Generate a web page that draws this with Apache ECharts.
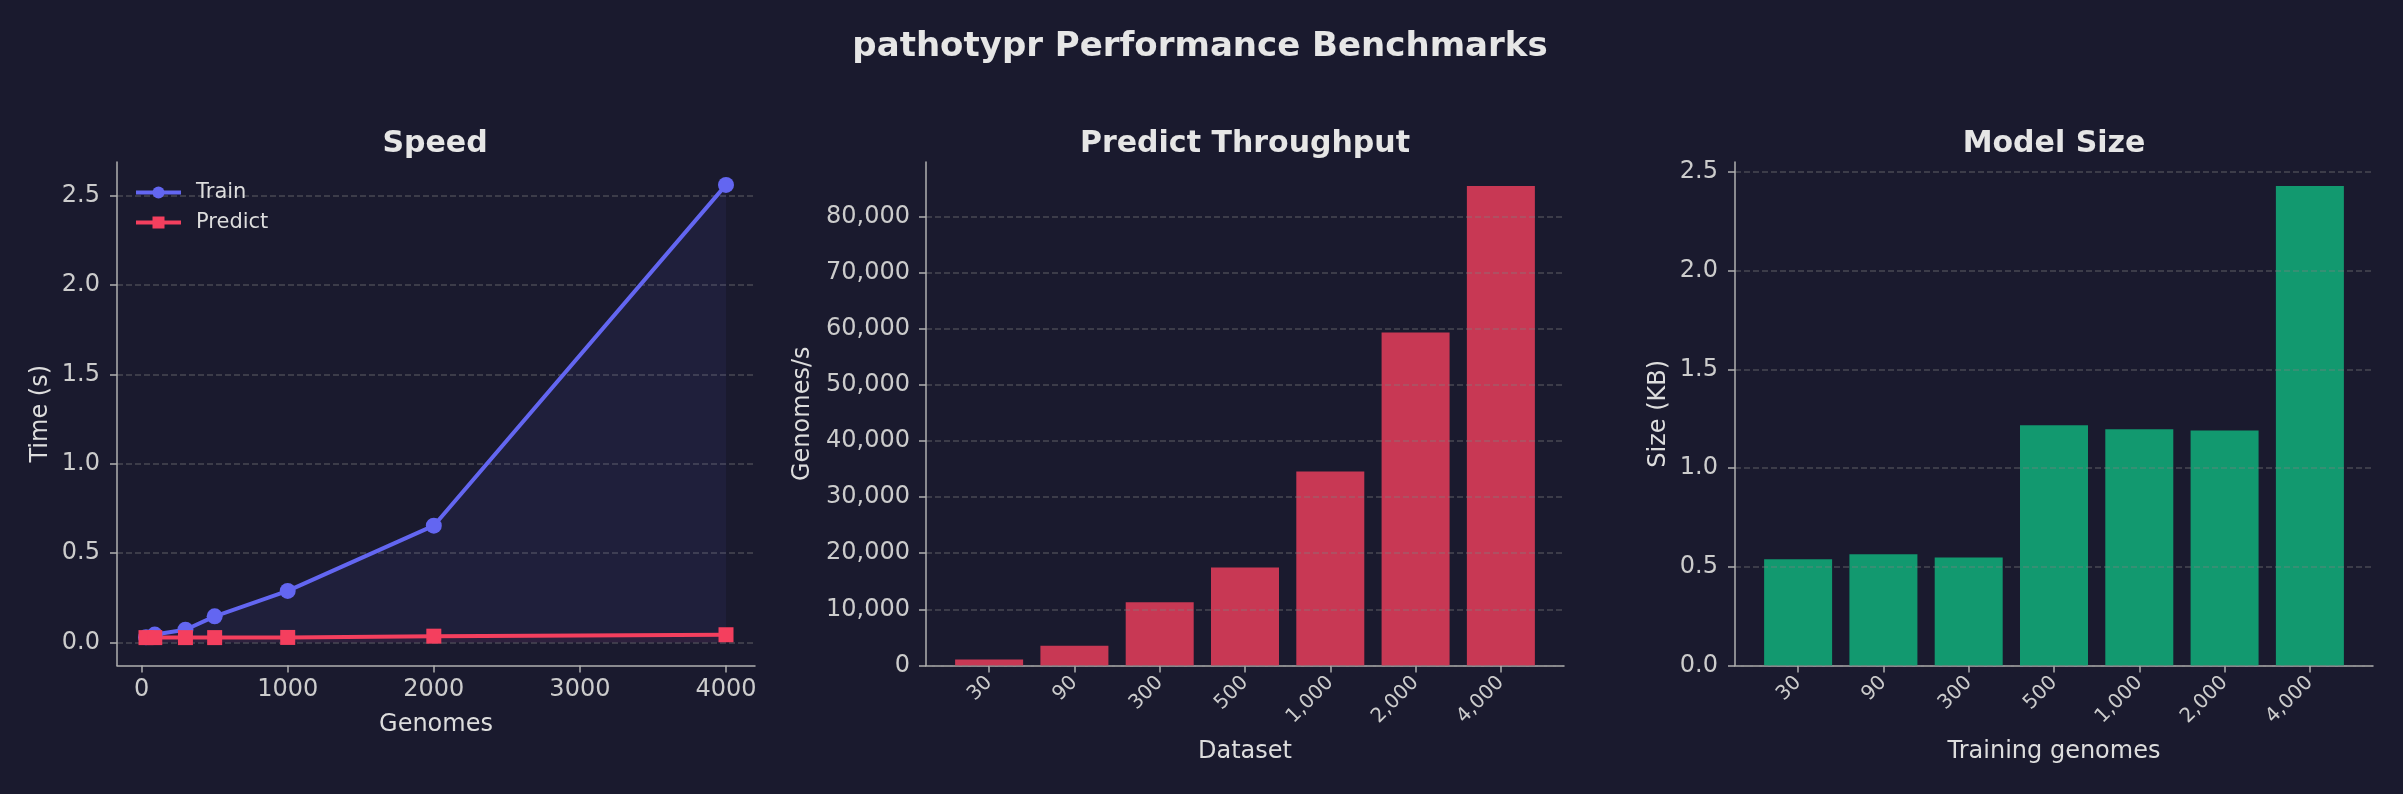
<!DOCTYPE html>
<html>
<head>
<meta charset="utf-8">
<title>pathotypr Performance Benchmarks</title>
<script src="https://cdn.jsdelivr.net/npm/echarts@6/dist/echarts.min.js"></script>
<style>
  html, body { margin: 0; padding: 0; background: #1a1a2e; }
  #chart { width: 2403px; height: 794px; }
</style>
</head>
<body>
<div id="chart"></div>
<script>
// Speed panel
const genomes = [30, 90, 300, 500, 1000, 2000, 4000];
const trainTime = [0.030, 0.045, 0.072, 0.147, 0.289, 0.654, 2.560];
const predictTime = [0.028, 0.028, 0.028, 0.028, 0.029, 0.036, 0.044];
const speedXTicks = [0, 1000, 2000, 3000, 4000];
const speedYTicks = [0, 0.5, 1.0, 1.5, 2.0, 2.5];

// Predict throughput panel
const datasets = ['30', '90', '300', '500', '1,000', '2,000', '4,000'];
const throughput = [1050, 3530, 11260, 17470, 34560, 59300, 85400];
const throughputTicks = [0, 10000, 20000, 30000, 40000, 50000, 60000, 70000, 80000];

// Model size panel
const trainingGenomes = ['30', '90', '300', '500', '1,000', '2,000', '4,000'];
const modelSizeKB = [0.538, 0.563, 0.547, 1.217, 1.197, 1.191, 2.429];
const sizeTicks = [0, 0.5, 1.0, 1.5, 2.0, 2.5];

const FONT = 'DejaVu Sans';
const BG = '#1a1a2e';
const SPINE = '#b0b0b0';
const TICK_TEXT = '#cccccc';
const LABEL_TEXT = '#dddddd';

// matplotlib style 5% margins
function pad(lo, hi) {
    const r = hi - lo;
    return [lo - 0.05 * r, hi + 0.05 * r];
}

const speedX = pad(Math.min(...genomes), Math.max(...genomes));
const speedY = pad(0, Math.max(...trainTime));
const barX = pad(-0.4, datasets.length - 1 + 0.4);
const idx = datasets.map((_, i) => i);

function axisLine() {
    return { show: true, onZero: false, lineStyle: { color: SPINE, width: 1.5 } };
}
function axisTick(values) {
    return { show: true, length: 7, customValues: values, lineStyle: { color: SPINE, width: 1.5 } };
}
function gridLine(show) {
    return {
        show: show,
        lineStyle: { color: 'rgba(128,128,128,0.45)', width: 1.5, type: [6, 3] }
    };
}
function nameStyle() {
    return { color: LABEL_TEXT, fontSize: 24, fontFamily: FONT };
}
function yLabel(values, fmt, margin) {
    return {
        customValues: values, color: TICK_TEXT, fontSize: 24, margin: margin, fontFamily: FONT,
        padding: [8, 0, 0, 0], formatter: fmt
    };
}

const chart = echarts.init(document.getElementById('chart'));

const grids = [
    { left: 117, right: 2403 - 755, top: 162, bottom: 128.5 },
    { left: 926, right: 2403 - 1564, top: 162, bottom: 128.5 },
    { left: 1735, right: 2403 - 2373, top: 162, bottom: 128.5 }
];

const option = {
    backgroundColor: BG,
    animation: false,
    textStyle: { fontFamily: FONT },
    title: [
        { text: 'pathotypr Performance Benchmarks', left: 1200, top: 47 },
        { text: 'Speed', left: 435, top: 144 },
        { text: 'Predict Throughput', left: 1245, top: 144 },
        { text: 'Model Size', left: 2054, top: 144 }
    ].map((t, i) => ({
        text: t.text, left: t.left, top: t.top, padding: 0,
        textAlign: 'center', textVerticalAlign: 'middle',
        textStyle: { color: '#e6e6e6', fontSize: i === 0 ? 34 : 30, fontWeight: 'bold', fontFamily: FONT }
    })),
    legend: {
        data: ['Train', 'Predict'],
        orient: 'vertical',
        left: 134, top: 182, padding: 0,
        itemWidth: 45, itemHeight: 15, itemGap: 9,
        lineStyle: { width: 4 },
        textStyle: { color: LABEL_TEXT, fontSize: 21, fontFamily: FONT, lineHeight: 21, padding: [0, 0, 0, 10] }
    },
    grid: grids,
    xAxis: [
        {
            type: 'value', gridIndex: 0, min: speedX[0], max: speedX[1],
            axisLine: axisLine(), axisTick: axisTick(speedXTicks),
            axisLabel: { customValues: speedXTicks, color: TICK_TEXT, fontSize: 24, margin: 12, fontFamily: FONT,
                formatter: v => String(v) },
            splitLine: gridLine(false),
            name: 'Genomes', nameLocation: 'middle', nameGap: 47, nameTextStyle: nameStyle()
        },
        {
            type: 'value', gridIndex: 1, min: barX[0], max: barX[1],
            axisLine: axisLine(), axisTick: axisTick(idx),
            axisLabel: {
                customValues: idx, rotate: 45, color: TICK_TEXT, fontSize: 20, margin: 14, fontFamily: FONT,
                formatter: v => datasets[Math.round(v)]
            },
            splitLine: gridLine(false),
            name: 'Dataset', nameLocation: 'middle', nameGap: 74, nameTextStyle: nameStyle()
        },
        {
            type: 'value', gridIndex: 2, min: barX[0], max: barX[1],
            axisLine: axisLine(), axisTick: axisTick(idx),
            axisLabel: {
                customValues: idx, rotate: 45, color: TICK_TEXT, fontSize: 20, margin: 14, fontFamily: FONT,
                formatter: v => trainingGenomes[Math.round(v)]
            },
            splitLine: gridLine(false),
            name: 'Training genomes', nameLocation: 'middle', nameGap: 74, nameTextStyle: nameStyle()
        }
    ],
    yAxis: [
        {
            type: 'value', gridIndex: 0, min: speedY[0], max: speedY[1],
            axisLine: axisLine(), axisTick: axisTick(speedYTicks),
            axisLabel: yLabel(speedYTicks, v => v.toFixed(1), 17),
            splitLine: gridLine(true),
            name: 'Time (s)', nameLocation: 'middle', nameGap: 64, nameTextStyle: nameStyle()
        },
        {
            type: 'value', gridIndex: 1, min: 0, max: Math.max(...throughput) * 1.05, z: 3,
            axisLine: axisLine(), axisTick: axisTick(throughputTicks),
            axisLabel: yLabel(throughputTicks, v => v.toLocaleString('en-US'), 16),
            splitLine: gridLine(true),
            name: 'Genomes/s', nameLocation: 'middle', nameGap: 111, nameTextStyle: nameStyle()
        },
        {
            type: 'value', gridIndex: 2, min: 0, max: Math.max(...modelSizeKB) * 1.05, z: 3,
            axisLine: axisLine(), axisTick: axisTick(sizeTicks),
            axisLabel: yLabel(sizeTicks, v => v.toFixed(1), 17),
            splitLine: gridLine(true),
            name: 'Size (KB)', nameLocation: 'middle', nameGap: 64, nameTextStyle: nameStyle()
        }
    ],
    series: [
        {
            name: 'Train', type: 'line', xAxisIndex: 0, yAxisIndex: 0,
            data: genomes.map((g, i) => [g, trainTime[i]]),
            symbol: 'circle', symbolSize: 16,
            itemStyle: { color: '#6366f1' },
            lineStyle: { color: '#6366f1', width: 4 },
            areaStyle: { color: 'rgba(99,102,241,0.10)', origin: 0 }
        },
        {
            name: 'Predict', type: 'line', xAxisIndex: 0, yAxisIndex: 0,
            data: genomes.map((g, i) => [g, predictTime[i]]),
            symbol: 'rect', symbolSize: 15,
            itemStyle: { color: '#f43f5e' },
            lineStyle: { color: '#f43f5e', width: 4 },
            areaStyle: { color: 'rgba(244,63,94,0.10)', origin: 0 }
        },
        {
            name: 'Throughput', type: 'bar', xAxisIndex: 1, yAxisIndex: 1,
            data: idx.map(i => [i, throughput[i]]),
            barWidth: 68,
            itemStyle: { color: '#c83854' }
        },
        {
            name: 'Model size', type: 'bar', xAxisIndex: 2, yAxisIndex: 2,
            data: idx.map(i => [i, modelSizeKB[i]]),
            barWidth: 68,
            itemStyle: { color: '#12996f' }
        }
    ]
};

chart.setOption(option);
</script>
</body>
</html>
